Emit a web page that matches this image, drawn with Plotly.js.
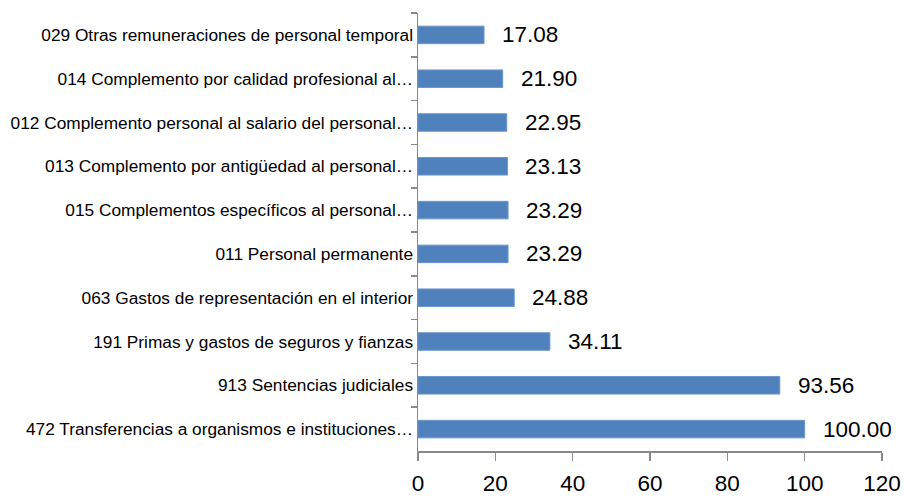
<!DOCTYPE html>
<html><head><meta charset="utf-8">
<script src="https://cdn.plot.ly/plotly-3.0.1.min.js"></script>
<style>body{margin:0;background:#fff}#c{width:906px;height:497px}</style>
</head><body><div id="c"></div>
<script>
const categories = [
  "029 Otras remuneraciones de personal temporal",
  "014 Complemento por calidad profesional al…",
  "012 Complemento personal al salario del personal…",
  "013 Complemento por antigüedad al personal…",
  "015 Complementos específicos al personal…",
  "011 Personal permanente",
  "063 Gastos de representación en el interior",
  "191 Primas y gastos de seguros y fianzas",
  "913 Sentencias judiciales",
  "472 Transferencias a organismos e instituciones…"
];
const values = [17.08, 21.90, 22.95, 23.13, 23.29, 23.29, 24.88, 34.11, 93.56, 100.00];
const xTicks = [0, 20, 40, 60, 80, 100, 120];

const FONT = '"Liberation Sans Narrow", "Arial Narrow", "Liberation Sans", Arial, sans-serif';

const trace = {
  type: 'bar', orientation: 'h',
  x: values, y: categories,
  width: 0.4,
  marker: {color: '#4F81BD', line: {color: '#6b96cc', width: 1}},
  hoverinfo: 'none'
};

const annotations = values.map((v, i) => ({
  x: v, y: categories[i], xref: 'x', yref: 'y',
  text: v.toFixed(2), showarrow: false,
  xanchor: 'left', yanchor: 'middle', xshift: 16, yshift: 0,
  font: {family: FONT, size: 22.5, color: '#000'}
}));

const layout = {
  width: 906, height: 497,
  margin: {l: 418, r: 24, t: 13, b: 46},
  paper_bgcolor: '#fff', plot_bgcolor: '#fff',
  showlegend: false,
  font: {family: FONT, color: '#000'},
  xaxis: {
    range: [0, 120], tickvals: xTicks, ticktext: xTicks.map(String),
    showgrid: false, zeroline: false,
    showline: true, linecolor: '#898989', linewidth: 1.5,
    ticks: 'outside', ticklen: 8, tickcolor: '#898989', tickwidth: 1.5,
    ticklabelstandoff: 3,
    tickfont: {family: FONT, size: 22.5, color: '#000'},
    fixedrange: true
  },
  yaxis: {
    type: 'category', autorange: 'reversed',
    showgrid: false, zeroline: false,
    showline: true, linecolor: '#898989', linewidth: 1.5,
    ticks: 'outside', ticklen: 6, tickcolor: '#898989', tickwidth: 1.5,
    tickson: 'boundaries',
    tickfont: {family: FONT, size: 17.3, color: '#000'},
    fixedrange: true
  },
  annotations: annotations
};

Plotly.newPlot('c', [trace], layout, {staticPlot: true, displayModeBar: false});
</script>
</body></html>
